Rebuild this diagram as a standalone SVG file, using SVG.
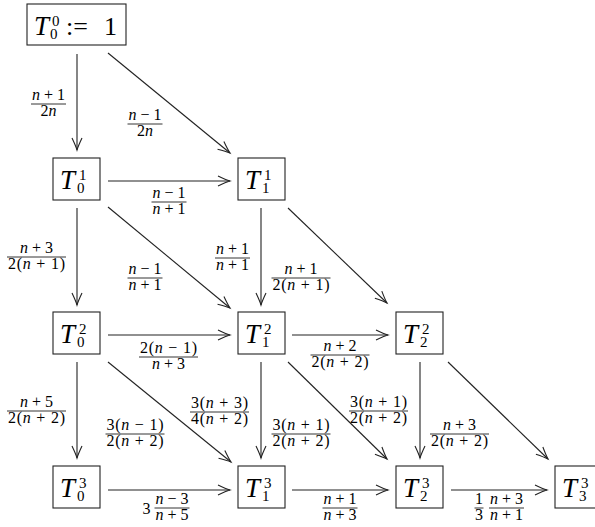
<svg xmlns="http://www.w3.org/2000/svg" width="595" height="527" viewBox="0 0 595 527">
<style>
.box{fill:#fff;stroke:#222;stroke-width:1.1}
.T{font-family:"Liberation Serif",serif;font-style:italic;font-size:27px;fill:#000}
.s{font-family:"Liberation Serif",serif;font-size:15px;fill:#000}
.r{font-family:"Liberation Serif",serif;font-size:26px;fill:#000}
.c{stroke:#222;stroke-width:1.1;fill:none;marker-end:url(#ah)}
.f{font-family:"Liberation Serif",serif;font-size:16px;fill:#000;text-anchor:middle}
.i{font-style:italic}
.bar{stroke:#000;stroke-width:0.8}
</style>
<defs>
<marker id="ah" markerUnits="userSpaceOnUse" orient="auto" refX="0" refY="0" viewBox="-14 -7 15 14" markerWidth="15" markerHeight="14" overflow="visible">
<path d="M-12,-5 Q-4,-1.2 0,0 Q-4,1.2 -12,5" fill="none" stroke="#222" stroke-width="1.1"/>
</marker>
</defs>

<g id="connectors">
<line class="c" x1="77" y1="54" x2="77" y2="150"/>
<line class="c" x1="108" y1="53" x2="230" y2="153"/>
<line class="c" x1="108" y1="181" x2="230" y2="181"/>
<line class="c" x1="77" y1="208" x2="77" y2="305"/>
<line class="c" x1="108" y1="207" x2="230" y2="308"/>
<line class="c" x1="261" y1="208" x2="261" y2="305"/>
<line class="c" x1="288" y1="208" x2="387" y2="303"/>
<line class="c" x1="108" y1="335" x2="230" y2="335"/>
<line class="c" x1="292" y1="335" x2="388" y2="335"/>
<line class="c" x1="77" y1="362" x2="77" y2="458"/>
<line class="c" x1="108" y1="362" x2="231" y2="462"/>
<line class="c" x1="261" y1="362" x2="261" y2="458"/>
<line class="c" x1="288" y1="362" x2="387" y2="459"/>
<line class="c" x1="420" y1="362" x2="420" y2="458"/>
<line class="c" x1="448" y1="362" x2="548" y2="459"/>
<line class="c" x1="108" y1="490" x2="230" y2="490"/>
<line class="c" x1="292" y1="490" x2="388" y2="490"/>
<line class="c" x1="451" y1="490" x2="547" y2="490"/>
</g>

<g id="labels">
<g><text class="f" x="48.5" y="100" textLength="33"><tspan class="i">n</tspan> + 1</text><line class="bar" x1="31" x2="66" y1="104" y2="104"/><text class="f" x="48.5" y="116">2<tspan class="i">n</tspan></text></g>
<g><text class="f" x="145" y="120" textLength="33"><tspan class="i">n</tspan> − 1</text><line class="bar" x1="127.5" x2="162.5" y1="124" y2="124"/><text class="f" x="145" y="136">2<tspan class="i">n</tspan></text></g>
<g><text class="f" x="169" y="198" textLength="33"><tspan class="i">n</tspan> − 1</text><line class="bar" x1="151.5" x2="186.5" y1="202" y2="202"/><text class="f" x="169" y="214" textLength="33"><tspan class="i">n</tspan> + 1</text></g>
<g><text class="f" x="36.5" y="253" textLength="33"><tspan class="i">n</tspan> + 3</text><line class="bar" x1="7" x2="66" y1="257" y2="257"/><text class="f" x="36.5" y="269" textLength="57">2(<tspan class="i">n</tspan> + 1)</text></g>
<g><text class="f" x="145" y="274" textLength="33"><tspan class="i">n</tspan> − 1</text><line class="bar" x1="127.5" x2="162.5" y1="278" y2="278"/><text class="f" x="145" y="290" textLength="33"><tspan class="i">n</tspan> + 1</text></g>
<g><text class="f" x="232.5" y="254" textLength="33"><tspan class="i">n</tspan> + 1</text><line class="bar" x1="215" x2="250" y1="258" y2="258"/><text class="f" x="232.5" y="270" textLength="33"><tspan class="i">n</tspan> + 1</text></g>
<g><text class="f" x="301" y="274" textLength="33"><tspan class="i">n</tspan> + 1</text><line class="bar" x1="271.5" x2="330.5" y1="278" y2="278"/><text class="f" x="301" y="290" textLength="57">2(<tspan class="i">n</tspan> + 1)</text></g>
<g><text class="f" x="168.5" y="353" textLength="57">2(<tspan class="i">n</tspan> − 1)</text><line class="bar" x1="139" x2="198" y1="357" y2="357"/><text class="f" x="168.5" y="369" textLength="33"><tspan class="i">n</tspan> + 3</text></g>
<g><text class="f" x="340" y="351" textLength="33"><tspan class="i">n</tspan> + 2</text><line class="bar" x1="310.5" x2="369.5" y1="355" y2="355"/><text class="f" x="340" y="367" textLength="57">2(<tspan class="i">n</tspan> + 2)</text></g>
<g><text class="f" x="36.5" y="407" textLength="33"><tspan class="i">n</tspan> + 5</text><line class="bar" x1="7" x2="66" y1="411" y2="411"/><text class="f" x="36.5" y="423" textLength="57">2(<tspan class="i">n</tspan> + 2)</text></g>
<g><text class="f" x="135" y="430" textLength="57">3(<tspan class="i">n</tspan> − 1)</text><line class="bar" x1="105.5" x2="164.5" y1="434" y2="434"/><text class="f" x="135" y="446" textLength="57">2(<tspan class="i">n</tspan> + 2)</text></g>
<g><text class="f" x="219.5" y="408" textLength="57">3(<tspan class="i">n</tspan> + 3)</text><line class="bar" x1="190" x2="249" y1="412" y2="412"/><text class="f" x="219.5" y="424" textLength="57">4(<tspan class="i">n</tspan> + 2)</text></g>
<g><text class="f" x="301" y="430" textLength="57">3(<tspan class="i">n</tspan> + 1)</text><line class="bar" x1="271.5" x2="330.5" y1="434" y2="434"/><text class="f" x="301" y="446" textLength="57">2(<tspan class="i">n</tspan> + 2)</text></g>
<g><text class="f" x="378.5" y="407" textLength="57">3(<tspan class="i">n</tspan> + 1)</text><line class="bar" x1="349" x2="408" y1="411" y2="411"/><text class="f" x="378.5" y="423" textLength="57">2(<tspan class="i">n</tspan> + 2)</text></g>
<g><text class="f" x="459.5" y="430" textLength="33"><tspan class="i">n</tspan> + 3</text><line class="bar" x1="430" x2="489" y1="434" y2="434"/><text class="f" x="459.5" y="446" textLength="57">2(<tspan class="i">n</tspan> + 2)</text></g>
<g><text class="f" x="146.5" y="513.5">3</text><text class="f" x="172" y="504" textLength="33"><tspan class="i">n</tspan> − 3</text><line class="bar" x1="154.5" x2="189.5" y1="508" y2="508"/><text class="f" x="172" y="520" textLength="33"><tspan class="i">n</tspan> + 5</text></g>
<g><text class="f" x="340" y="504" textLength="33"><tspan class="i">n</tspan> + 1</text><line class="bar" x1="322.5" x2="357.5" y1="508" y2="508"/><text class="f" x="340" y="520" textLength="33"><tspan class="i">n</tspan> + 3</text></g>
<g><text class="f" x="479" y="504">1</text><line class="bar" x1="474.5" x2="483.5" y1="508" y2="508"/><text class="f" x="479" y="520">3</text><text class="f" x="506.5" y="504" textLength="33"><tspan class="i">n</tspan> + 3</text><line class="bar" x1="489" x2="524" y1="508" y2="508"/><text class="f" x="506.5" y="520" textLength="33"><tspan class="i">n</tspan> + 1</text></g>
</g>

<g id="T00"><rect class="box" x="27" y="4" width="99" height="41"/><text class="T" x="34" y="35">T</text><text class="s" x="52" y="26">0</text><text class="s" x="50" y="39">0</text><text class="r" x="66" y="35">:=</text><text class="r" x="104" y="35">1</text></g>
<g id="T01"><rect class="box" x="53" y="158" width="47" height="42"/><text class="T" x="60" y="189">T</text><text class="s" x="79" y="180">1</text><text class="s" x="77" y="193">0</text></g>
<g id="T11"><rect class="box" x="238" y="158" width="47" height="42"/><text class="T" x="245" y="189">T</text><text class="s" x="264" y="180">1</text><text class="s" x="262" y="193">1</text></g>
<g id="T02"><rect class="box" x="53" y="312" width="47" height="42"/><text class="T" x="60" y="343">T</text><text class="s" x="79" y="334">2</text><text class="s" x="77" y="347">0</text></g>
<g id="T12"><rect class="box" x="238" y="312" width="47" height="42"/><text class="T" x="245" y="343">T</text><text class="s" x="264" y="334">2</text><text class="s" x="262" y="347">1</text></g>
<g id="T22"><rect class="box" x="396" y="312" width="47" height="42"/><text class="T" x="403" y="343">T</text><text class="s" x="422" y="334">2</text><text class="s" x="420" y="347">2</text></g>
<g id="T03"><rect class="box" x="53" y="466" width="47" height="42"/><text class="T" x="60" y="497">T</text><text class="s" x="79" y="488">3</text><text class="s" x="77" y="501">0</text></g>
<g id="T13"><rect class="box" x="238" y="466" width="47" height="42"/><text class="T" x="245" y="497">T</text><text class="s" x="264" y="488">3</text><text class="s" x="262" y="501">1</text></g>
<g id="T23"><rect class="box" x="396" y="466" width="47" height="42"/><text class="T" x="403" y="497">T</text><text class="s" x="422" y="488">3</text><text class="s" x="420" y="501">2</text></g>
<g id="T33"><rect class="box" x="555" y="466" width="47" height="42"/><text class="T" x="562" y="497">T</text><text class="s" x="581" y="488">3</text><text class="s" x="579" y="501">3</text></g>
</svg>
